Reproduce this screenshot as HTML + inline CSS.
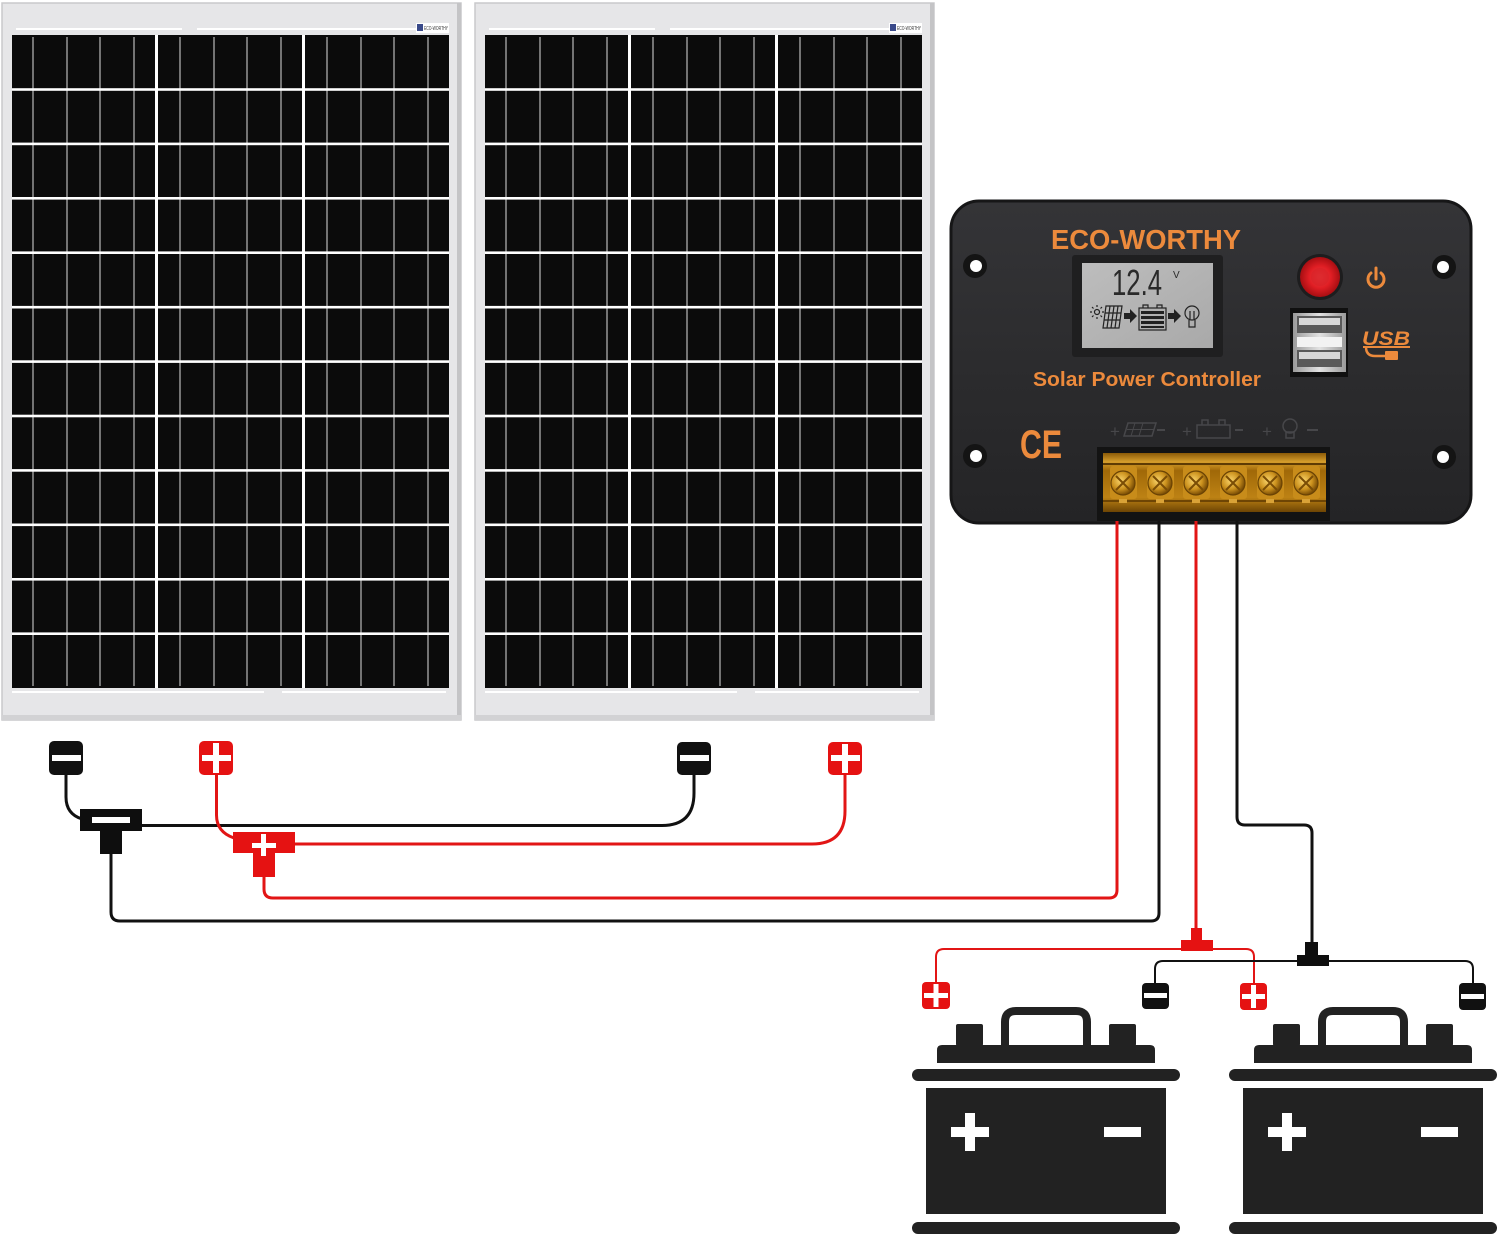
<!DOCTYPE html>
<html>
<head>
<meta charset="utf-8">
<style>
  html, body { margin: 0; padding: 0; background: #ffffff; }
  body { width: 1500px; height: 1237px; overflow: hidden; }
  svg { display: block; }
  text { font-family: "Liberation Sans", "DejaVu Sans", sans-serif; }
</style>
</head>
<body>
<svg width="1500" height="1237" viewBox="0 0 1500 1237" xmlns="http://www.w3.org/2000/svg">
  <defs>
    <linearGradient id="bodyGrad" x1="0" y1="0" x2="0" y2="1">
      <stop offset="0" stop-color="#343437"/>
      <stop offset="0.5" stop-color="#2c2c2e"/>
      <stop offset="1" stop-color="#242426"/>
    </linearGradient>
    <linearGradient id="lcdGrad" x1="0" y1="0" x2="1" y2="1">
      <stop offset="0" stop-color="#bdbdbd"/>
      <stop offset="1" stop-color="#a9a9a9"/>
    </linearGradient>
    <linearGradient id="goldGrad" x1="0" y1="0" x2="0" y2="1">
      <stop offset="0" stop-color="#8a5a08"/>
      <stop offset="0.15" stop-color="#d69e2c"/>
      <stop offset="0.3" stop-color="#a06808"/>
      <stop offset="0.75" stop-color="#bd8214"/>
      <stop offset="1" stop-color="#6e4504"/>
    </linearGradient>
    <radialGradient id="screwGrad" cx="0.4" cy="0.4" r="0.6">
      <stop offset="0" stop-color="#f9d46a"/>
      <stop offset="0.6" stop-color="#cc921e"/>
      <stop offset="1" stop-color="#7a4d05"/>
    </radialGradient>
    <linearGradient id="usbGrad" x1="0" y1="0" x2="1" y2="0">
      <stop offset="0" stop-color="#9a9a9a"/>
      <stop offset="0.5" stop-color="#e2e2e2"/>
      <stop offset="1" stop-color="#9a9a9a"/>
    </linearGradient>
    <radialGradient id="btnGrad" cx="0.5" cy="0.5" r="0.5">
      <stop offset="0" stop-color="#e84444"/>
      <stop offset="0.55" stop-color="#e01e24"/>
      <stop offset="1" stop-color="#a80e12"/>
    </radialGradient>

    <!-- Solar panel -->
    <g id="panel">
      <rect x="2" y="3" width="459" height="717" fill="#e6e6e8" stroke="#c9c9cb" stroke-width="1.5"/>
      <rect x="457" y="3" width="4" height="717" fill="#c4c4c6"/>
      <rect x="2" y="715" width="459" height="5" fill="#d2d2d4"/>
      <rect x="16" y="28" width="166" height="2" fill="#ffffff"/>
      <rect x="197" y="28" width="251" height="2" fill="#ffffff"/>
      <rect x="12" y="691" width="252" height="2" fill="#ffffff"/>
      <rect x="282" y="691" width="164" height="2" fill="#ffffff"/>
      <rect x="12" y="35" width="437" height="653" fill="#0b0b0b"/>
      <!-- busbars -->
      <g fill="#8e8e8e">
        <rect x="32.2" y="37" width="1.6" height="649"/>
        <rect x="66.2" y="37" width="1.6" height="649"/>
        <rect x="99.2" y="37" width="1.6" height="649"/>
        <rect x="133.2" y="37" width="1.6" height="649"/>
        <rect x="179.2" y="37" width="1.6" height="649"/>
        <rect x="213.2" y="37" width="1.6" height="649"/>
        <rect x="246.2" y="37" width="1.6" height="649"/>
        <rect x="280.2" y="37" width="1.6" height="649"/>
        <rect x="326.2" y="37" width="1.6" height="649"/>
        <rect x="360.2" y="37" width="1.6" height="649"/>
        <rect x="393.2" y="37" width="1.6" height="649"/>
        <rect x="427.2" y="37" width="1.6" height="649"/>
      </g>
      <!-- column gaps -->
      <rect x="155" y="35" width="3" height="653" fill="#ffffff"/>
      <rect x="302" y="35" width="3" height="653" fill="#ffffff"/>
      <!-- row gaps -->
      <g fill="#ffffff">
        <rect x="12" y="88.2" width="437" height="2.6"/>
        <rect x="12" y="142.6" width="437" height="2.6"/>
        <rect x="12" y="197.0" width="437" height="2.6"/>
        <rect x="12" y="251.4" width="437" height="2.6"/>
        <rect x="12" y="305.9" width="437" height="2.6"/>
        <rect x="12" y="360.3" width="437" height="2.6"/>
        <rect x="12" y="414.7" width="437" height="2.6"/>
        <rect x="12" y="469.1" width="437" height="2.6"/>
        <rect x="12" y="523.5" width="437" height="2.6"/>
        <rect x="12" y="578.0" width="437" height="2.6"/>
        <rect x="12" y="632.4" width="437" height="2.6"/>
      </g>
      <!-- logo -->
      <rect x="416" y="23" width="33" height="10" fill="#ffffff"/>
      <rect x="417" y="24" width="6" height="7" fill="#3a4a8a"/>
      <text x="424" y="30" font-size="5" fill="#333" textLength="24" lengthAdjust="spacingAndGlyphs">ECO-WORTHY</text>
    </g>

    <!-- Battery -->
    <g id="battery" fill="#222222">
      <rect x="912" y="1222" width="268" height="12" rx="6"/>
      <rect x="926" y="1088" width="240" height="126"/>
      <rect x="912" y="1069" width="268" height="12" rx="6"/>
      <path d="M937 1063 V1050 Q937 1045 942 1045 H1150 Q1155 1045 1155 1050 V1063 Z"/>
      <rect x="956" y="1024" width="27" height="22" rx="2"/>
      <rect x="1109" y="1024" width="27" height="22" rx="2"/>
      <path d="M1005 1046 V1022 Q1005 1011 1016 1011 H1076 Q1087 1011 1087 1022 V1046" fill="none" stroke="#222222" stroke-width="8"/>
      <rect x="951" y="1127" width="38" height="10" fill="#ffffff"/>
      <rect x="965" y="1113" width="10" height="38" fill="#ffffff"/>
      <rect x="1104" y="1127" width="37" height="10" fill="#ffffff"/>
    </g>
  </defs>

  <rect x="0" y="0" width="1500" height="1237" fill="#ffffff"/>

  <!-- Solar panels -->
  <use href="#panel" x="0" y="0"/>
  <use href="#panel" x="473" y="0"/>

  <!-- ===== Controller ===== -->
  <g>
    <rect x="951" y="201" width="520" height="322" rx="28" fill="url(#bodyGrad)" stroke="#161617" stroke-width="3"/>
    <!-- mounting holes -->
    <g>
      <circle cx="975" cy="266" r="12" fill="#141414"/>
      <circle cx="976" cy="266" r="6" fill="#ffffff"/>
      <circle cx="975" cy="456" r="12" fill="#141414"/>
      <circle cx="976" cy="456" r="6" fill="#ffffff"/>
      <circle cx="1444" cy="267" r="12" fill="#141414"/>
      <circle cx="1443" cy="267" r="6" fill="#ffffff"/>
      <circle cx="1444" cy="457" r="12" fill="#141414"/>
      <circle cx="1443" cy="457" r="6" fill="#ffffff"/>
    </g>

    <text x="1051" y="249" font-size="28" font-weight="bold" fill="#ec8a3c" textLength="190" lengthAdjust="spacingAndGlyphs">ECO-WORTHY</text>

    <!-- LCD -->
    <rect x="1072" y="255" width="151" height="102" rx="3" fill="#1f1f20"/>
    <rect x="1082" y="263" width="131" height="85" fill="url(#lcdGrad)"/>
    <text x="1112" y="295" font-size="36" fill="#2a2a2a" font-family="DejaVu Sans Mono, Liberation Mono, monospace" textLength="50" lengthAdjust="spacingAndGlyphs">12.4</text>
    <text x="1173" y="278" font-size="10" fill="#2a2a2a">V</text>
    <!-- LCD icons -->
    <g stroke="#222" stroke-width="1.2" fill="none">
      <circle cx="1097" cy="312" r="2.5"/>
      <path d="M1097 305 V307 M1097 317 V319 M1090 312 H1092 M1102 312 H1104 M1092 307 L1093.5 308.5 M1100.5 315.5 L1102 317 M1092 317 L1093.5 315.5 M1100.5 308.5 L1102 307"/>
      <path d="M1106 306 H1122 L1119 328 H1103 Z"/>
      <path d="M1105 313 H1121 M1104 320 H1120 M1110 306 L1107 328 M1114 306 L1111 328 M1118 306 L1115 328"/>
      <rect x="1139" y="308" width="27" height="22"/>
      <path d="M1143 308 V305 H1148 V308 M1157 308 V305 H1162 V308"/>
    </g>
    <g fill="#222">
      <polygon points="1124,313 1130,313 1130,309 1137,316 1130,323 1130,319 1124,319"/>
      <polygon points="1168,313 1174,313 1174,309 1181,316 1174,323 1174,319 1168,319"/>
      <rect x="1141" y="311" width="23" height="3"/>
      <rect x="1141" y="316" width="23" height="3"/>
      <rect x="1141" y="321" width="23" height="3"/>
      <rect x="1141" y="326" width="23" height="2"/>
    </g>
    <g stroke="#222" stroke-width="1.2" fill="none">
      <circle cx="1192" cy="313" r="7"/>
      <path d="M1189 320 V327 H1195 V320 M1190 311 V319 M1194 311 V319"/>
    </g>

    <text x="1033" y="386" font-size="20" font-weight="bold" fill="#ec8a3c" textLength="228" lengthAdjust="spacingAndGlyphs">Solar Power Controller</text>

    <!-- Red button -->
    <circle cx="1320" cy="277" r="23" fill="#1d1d1e"/>
    <circle cx="1320" cy="277" r="20" fill="url(#btnGrad)"/>
    <circle cx="1320" cy="277" r="9" fill="#d82228" opacity="0.7"/>
    <!-- Power icon -->
    <g stroke="#ec8a3c" stroke-width="3" fill="none" stroke-linecap="round">
      <path d="M1371 273 A8 8 0 1 0 1381 273"/>
      <path d="M1376 268 V279"/>
    </g>

    <!-- USB port -->
    <rect x="1290" y="308" width="58" height="69" fill="#101010"/>
    <rect x="1293" y="313" width="53" height="59" fill="url(#usbGrad)"/>
    <rect x="1297" y="316" width="45" height="17" fill="#5a5a5a"/>
    <rect x="1299" y="318" width="41" height="7" fill="#d8d8d8"/>
    <rect x="1297" y="337" width="45" height="10" fill="#f2f2f2"/>
    <rect x="1297" y="350" width="45" height="17" fill="#5a5a5a"/>
    <rect x="1299" y="352" width="41" height="7" fill="#d8d8d8"/>

    <!-- USB logo -->
    <text x="1362" y="345" font-size="19" font-weight="bold" font-style="italic" fill="#ec8a3c" textLength="48" lengthAdjust="spacingAndGlyphs">USB</text>
    <path d="M1363 347 H1410" stroke="#ec8a3c" stroke-width="2"/>
    <path d="M1366 347 Q1366 356 1375 356 H1385" stroke="#ec8a3c" stroke-width="2.5" fill="none"/>
    <rect x="1385" y="351" width="13" height="9" rx="1" fill="#ec8a3c"/>

    <!-- CE -->
    <text x="1020" y="458" font-size="40" font-weight="bold" fill="#ec8a3c" textLength="42" lengthAdjust="spacingAndGlyphs">CE</text>

    <!-- Embossed labels -->
    <g fill="#47474a" stroke="#47474a">
      <text x="1110" y="437" font-size="17" stroke="none">+</text>
      <path d="M1128 423 H1156 L1152 436 H1124 Z" fill="none" stroke-width="1.5"/>
      <path d="M1127 429.5 H1154 M1135 423 L1131 436 M1143 423 L1139 436" fill="none" stroke-width="1"/>
      <rect x="1157" y="429" width="8" height="2" stroke="none"/>
      <text x="1182" y="437" font-size="17" stroke="none">+</text>
      <rect x="1197" y="425" width="33" height="13" fill="none" stroke-width="1.5"/>
      <path d="M1202 425 V420 H1208 V425 M1219 425 V420 H1225 V425" fill="none" stroke-width="1.5"/>
      <rect x="1235" y="429" width="8" height="2" stroke="none"/>
      <text x="1262" y="437" font-size="17" stroke="none">+</text>
      <circle cx="1290" cy="426" r="7" fill="none" stroke-width="1.5"/>
      <rect x="1286" y="432" width="8" height="6" fill="none" stroke-width="1.5"/>
      <rect x="1307" y="429" width="11" height="2" stroke="none"/>
    </g>

    <!-- Terminal block -->
    <rect x="1097" y="447" width="233" height="74" fill="#131313"/>
    <rect x="1103" y="453" width="223" height="59" fill="url(#goldGrad)"/>
    <rect x="1103" y="463" width="223" height="2" fill="#5e3b03"/>
    <rect x="1103" y="500" width="223" height="2" fill="#6e4504"/>
    <g>
      <rect x="1110" y="466" width="27" height="33" rx="3" fill="#c88c1a"/>
      <rect x="1147" y="466" width="27" height="33" rx="3" fill="#c88c1a"/>
      <rect x="1183" y="466" width="27" height="33" rx="3" fill="#c88c1a"/>
      <rect x="1220" y="466" width="27" height="33" rx="3" fill="#c88c1a"/>
      <rect x="1257" y="466" width="27" height="33" rx="3" fill="#c88c1a"/>
      <rect x="1293" y="466" width="27" height="33" rx="3" fill="#c88c1a"/>
    </g>
    <g fill="url(#screwGrad)" stroke="#6a4304" stroke-width="1.2">
      <circle cx="1123" cy="483" r="12"/>
      <circle cx="1160" cy="483" r="12"/>
      <circle cx="1196" cy="483" r="12"/>
      <circle cx="1233" cy="483" r="12"/>
      <circle cx="1270" cy="483" r="12"/>
      <circle cx="1306" cy="483" r="12"/>
    </g>
    <g stroke="#7a4d05" stroke-width="2">
      <path d="M1116 476 L1130 490 M1130 476 L1116 490"/>
      <path d="M1153 476 L1167 490 M1167 476 L1153 490"/>
      <path d="M1189 476 L1203 490 M1203 476 L1189 490"/>
      <path d="M1226 476 L1240 490 M1240 476 L1226 490"/>
      <path d="M1263 476 L1277 490 M1277 476 L1263 490"/>
      <path d="M1299 476 L1313 490 M1313 476 L1299 490"/>
    </g>
    <g fill="#d9a237">
      <rect x="1119" y="499" width="8" height="4"/>
      <rect x="1156" y="499" width="8" height="4"/>
      <rect x="1192" y="499" width="8" height="4"/>
      <rect x="1229" y="499" width="8" height="4"/>
      <rect x="1266" y="499" width="8" height="4"/>
      <rect x="1302" y="499" width="8" height="4"/>
    </g>
  </g>

  <!-- ===== Wires ===== -->
  <g fill="none" stroke-width="3" stroke-linejoin="round">
    <path d="M66 775 V797 Q66 814 82 819" stroke="#111111"/>
    <path d="M142 825.5 H662 Q694 825.5 694 793 V775" stroke="#111111"/>
    <path d="M111 854 V912 Q111 921 120 921 H1151 Q1159 921 1159 913 V521" stroke="#111111"/>
    <path d="M1237 521 V817 Q1237 825 1245 825 H1304 Q1312 825 1312 833 V945" stroke="#111111"/>

    <path d="M216.5 775 V815 Q216.5 832 234 838" stroke="#e21515"/>
    <path d="M295 844 H812 Q845 844 845 811 V775" stroke="#e21515"/>
    <path d="M264 877 V889 Q264 898 273 898 H1109 Q1117 898 1117 890 V521" stroke="#e21515"/>
    <path d="M1196 521 V930" stroke="#e21515"/>
  </g>
  <g fill="none" stroke-width="2">
    <path d="M936 983 V957 Q936 949 944 949 H1246 Q1254 949 1254 957 V984" stroke="#e21515"/>
    <path d="M1155 984 V969 Q1155 961 1163 961 H1465 Q1473 961 1473 969 V984" stroke="#111111"/>
  </g>

  <!-- T connectors -->
  <g fill="#0e0e0e">
    <rect x="80" y="809" width="62" height="22"/>
    <rect x="100" y="830" width="22" height="24"/>
  </g>
  <rect x="92" y="817" width="38" height="6" fill="#ffffff"/>
  <g fill="#e51212">
    <rect x="233" y="832" width="62" height="21"/>
    <rect x="253" y="852" width="22" height="25"/>
  </g>
  <rect x="252" y="843" width="24" height="5" fill="#ffffff"/>
  <rect x="261" y="834" width="5" height="22" fill="#ffffff"/>

  <g fill="#e51212">
    <rect x="1191" y="928" width="11" height="13"/>
    <rect x="1181" y="940" width="32" height="11"/>
  </g>
  <g fill="#0e0e0e">
    <rect x="1305" y="942" width="13" height="14"/>
    <rect x="1297" y="955" width="32" height="11"/>
  </g>

  <!-- Panel terminals -->
  <rect x="49" y="741" width="34" height="34" rx="5" fill="#111111"/>
  <rect x="52" y="755" width="29" height="6" fill="#ffffff"/>
  <rect x="199" y="741" width="34" height="34" rx="5" fill="#e51212"/>
  <rect x="202" y="755" width="29" height="6" fill="#ffffff"/>
  <rect x="213" y="743" width="6" height="30" fill="#ffffff"/>
  <rect x="677" y="742" width="34" height="33" rx="5" fill="#111111"/>
  <rect x="680" y="755" width="29" height="6" fill="#ffffff"/>
  <rect x="828" y="742" width="34" height="33" rx="5" fill="#e51212"/>
  <rect x="831" y="755" width="29" height="6" fill="#ffffff"/>
  <rect x="842" y="744" width="6" height="29" fill="#ffffff"/>

  <!-- Battery terminals -->
  <rect x="922" y="982" width="28" height="27" rx="4" fill="#e51212"/>
  <rect x="924" y="993" width="24" height="5" fill="#ffffff"/>
  <rect x="933.5" y="984" width="5" height="23" fill="#ffffff"/>
  <rect x="1142" y="983" width="27" height="26" rx="4" fill="#111111"/>
  <rect x="1144" y="993" width="23" height="5" fill="#ffffff"/>
  <rect x="1240" y="983" width="27" height="27" rx="4" fill="#e51212"/>
  <rect x="1242" y="994" width="23" height="5" fill="#ffffff"/>
  <rect x="1251" y="985" width="5" height="23" fill="#ffffff"/>
  <rect x="1459" y="983" width="27" height="27" rx="4" fill="#111111"/>
  <rect x="1461" y="994" width="23" height="5" fill="#ffffff"/>

  <!-- Batteries -->
  <use href="#battery" x="0" y="0"/>
  <use href="#battery" x="317" y="0"/>
</svg>
</body>
</html>
